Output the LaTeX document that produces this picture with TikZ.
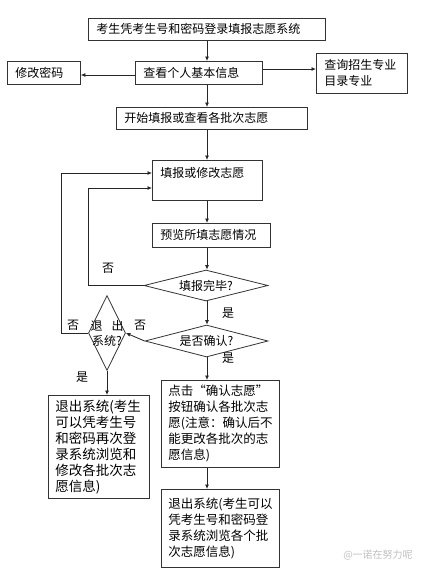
\documentclass[tikz,border=0pt]{standalone}
\usepackage{fontspec}
\newfontfamily\cjk{Noto Sans CJK SC}
\usetikzlibrary{shapes.geometric,arrows.meta}
\tikzset{
  box/.style={draw=black!80, line width=0.8pt, rectangle, inner xsep=8pt, inner ysep=0pt,
    align=left, anchor=north west, font=\cjk\fontsize{12}{16}\selectfont},
  bigbox/.style={box, font=\cjk\fontsize{12.5}{16}\selectfont},
  dia/.style={draw=black!80, line width=0.8pt, diamond, inner sep=0pt, shape aspect=4,
    font=\cjk\fontsize{12}{15}\selectfont},
  lbl/.style={inner sep=0pt, font=\cjk\fontsize{12}{15}\selectfont},
  arr/.style={draw=black!85, line width=0.8pt, -{Latex[length=4.5pt,width=4pt]}},
  ln/.style={draw=black!85, line width=0.8pt}
}
\begin{document}
\begin{tikzpicture}[x=1pt,y=-1pt]
\useasboundingbox (0,0) rectangle (437,573);
% boxes
\node[box, text width=221pt, minimum height=22pt] (top) at (88,18) {考生凭考生号和密码登录填报志愿系统};
\node[box, text width=111pt, minimum height=23pt] (cha) at (135,61) {查看个人基本信息};
\node[box, text width=57pt, minimum height=23pt] (xiu) at (7,61) {修改密码};
\node[box, text width=75pt, minimum height=40pt] (cx) at (316,53) {查询招生专业\\目录专业};
\node[box, text width=175pt, minimum height=22pt] (kai) at (116,107) {开始填报或查看各批次志愿};
\node[box, text width=94pt, minimum height=40pt] (tb) at (152,160) {填报或修改志愿\\\mbox{}};
\node[box, text width=102pt, minimum height=24pt] (yl) at (152,223) {预览所填志愿情况};
\node[dia, minimum width=124pt, minimum height=31pt] (d1) at (206,285.5) {填报完毕?};
\node[dia, minimum width=123pt, minimum height=32pt] (d2) at (206.5,341) {\raisebox{-2pt}{是否确认?}};
\node[draw=black!80, line width=0.8pt, diamond, inner sep=0pt, minimum width=37pt, minimum height=75pt] (d3) at (107,333) {};
\node[lbl, align=center] (d3t) at (107,333) {退\hspace{9pt}出\\系统?};
\node[box, font=\cjk\fontsize{13.5}{16}\selectfont, inner xsep=7pt, text width=87pt, minimum height=103pt] (lb) at (48,395)
  {退出系统(考生\\可以凭考生号\\和密码再次登\\录系统浏览和\\修改各批次志\\愿信息)};
\node[bigbox, inner xsep=7pt, text width=104pt, minimum height=87pt] (rb) at (161,380)
  {点击“确认志愿”\\按钮确认各批次志\\愿(注意：确认后不\\能更改各批次的志\\愿信息)};
\node[bigbox, inner xsep=7pt, text width=104pt, minimum height=78pt] (bb) at (161,489)
  {退出系统(考生可以\\凭考生号和密码登\\录系统浏览各个批\\次志愿信息)};
% labels
\node[lbl] (no1) at (108,268) {否};
\node[lbl] (yes1) at (228,313) {是};
\node[lbl] (no2) at (73,325) {否};
\node[lbl] (no3) at (140,325) {否};
\node[lbl] (yes2) at (82,377) {是};
\node[lbl] (yes3) at (228,358) {是};
\node[inner sep=0pt, text=black!25, font=\cjk\fontsize{10}{12}\selectfont] (wm) at (378,555) {@一诺在努力呢};
% axis coordinates
\coordinate (ax) at (207,0);
\coordinate (l1) at (61,0);
\coordinate (l2) at (88,0);
% connectors
\draw[arr] (ax |- top.south) -- (ax |- cha.north);
\draw[arr] (cha.west |- 0,75) -- (xiu.east |- 0,75);
\draw[arr] (cha.east |- 0,69) -- (cx.west |- 0,69);
\draw[arr] (ax |- cha.south) -- (ax |- kai.north);
\draw[arr] (ax |- kai.south) -- (ax |- tb.north);
\draw[arr] (ax |- tb.south) -- (ax |- yl.north);
\draw[arr] (ax |- yl.south) -- (ax |- d1.north);
\draw[arr] (ax |- d1.south) -- (ax |- d2.north);
\draw[arr] (d1.west) -- (l2 |- d1.west) -- (l2 |- 0,188) -- (tb.west |- 0,188);
\draw[arr] (d2.west) -- (d3.east);
\draw[arr] (d3.west) -- (l1 |- d3.west) -- (l1 |- 0,173) -- (tb.west |- 0,173);
\draw[arr] (d3.south) -- (d3.south |- lb.north);
\draw[arr] (ax |- d2.south) -- (ax |- rb.north);
\draw[arr] (ax |- rb.south) -- (ax |- bb.north);
\end{tikzpicture}
\end{document}
